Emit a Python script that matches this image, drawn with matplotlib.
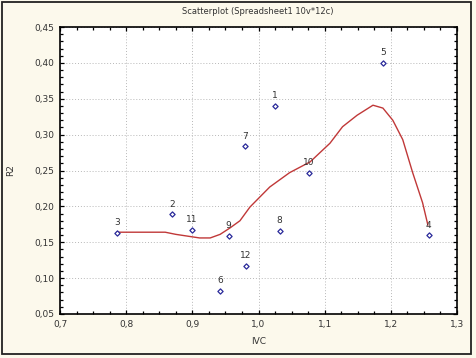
import matplotlib
matplotlib.use("Agg")
import matplotlib.pyplot as plt
from matplotlib.ticker import MultipleLocator, FuncFormatter
from matplotlib.patches import Rectangle

# Data
labels = ["1", "2", "3", "4", "5", "6", "7", "8", "9", "10", "11", "12"]
ivc = [1.025, 0.869, 0.786, 1.257, 1.188, 0.942, 0.979, 1.032, 0.955, 1.076, 0.899, 0.981]
r2 = [0.340, 0.189, 0.163, 0.160, 0.400, 0.082, 0.284, 0.166, 0.159, 0.247, 0.167, 0.117]

# Smoothed fit curve
fit_x = [0.786, 0.859, 0.875, 0.911, 0.927, 0.942, 0.957, 0.972, 0.987, 1.017, 1.047,
         1.078, 1.108, 1.127, 1.149, 1.173, 1.188, 1.203, 1.218, 1.233, 1.248, 1.256]
fit_y = [0.164, 0.164, 0.161, 0.156, 0.156, 0.161, 0.170, 0.180, 0.199, 0.227, 0.247,
         0.262, 0.288, 0.311, 0.327, 0.341, 0.337, 0.320, 0.293, 0.247, 0.205, 0.174]

title = "Scatterplot (Spreadsheet1 10v*12c)"
xlabel = "IVC"
ylabel = "R2"

bg = "#fcf9ec"
fig = plt.figure(figsize=(4.76, 3.58), dpi=100, facecolor=bg)
ax = fig.add_axes([60/476, 1 - 314/358, 397/476, 287/358])
ax.set_facecolor("white")

ax.plot(fit_x, fit_y, color="#c03838", lw=1.0, zorder=2)
ax.scatter(ivc, r2, marker="D", s=7, facecolor="white", edgecolor="#2a2a9a", linewidths=0.9, zorder=3)
for lab, x, y in zip(labels, ivc, r2):
    ax.annotate(lab, (x, y), xytext=(0, 4), textcoords="offset points", ha="center", va="bottom",
                fontsize=6.5, color="#333333", zorder=4)

ax.set_xlim(0.7, 1.3)
ax.set_ylim(0.05, 0.45)
ax.xaxis.set_major_locator(MultipleLocator(0.1))
ax.xaxis.set_minor_locator(MultipleLocator(0.025))
ax.yaxis.set_major_locator(MultipleLocator(0.05))
ax.yaxis.set_minor_locator(MultipleLocator(0.01))
ax.xaxis.set_major_formatter(FuncFormatter(lambda v, p: f"{v:.1f}".replace(".", ",")))
ax.yaxis.set_major_formatter(FuncFormatter(lambda v, p: f"{v:.2f}".replace(".", ",")))
ax.tick_params(which="both", direction="in", top=True, right=True, color="black",
               labelsize=6.5, labelcolor="#333333")
ax.tick_params(which="major", length=3, width=0.9, pad=4)
ax.tick_params(which="minor", length=2.5, width=0.9)
ax.grid(True, which="major", color="#b8b8b8", linestyle=(0, (1, 2)), lw=0.7)
for s in ax.spines.values():
    s.set_linewidth(1.2)
    s.set_color("black")

ax.set_xlabel(xlabel, fontsize=6.5, color="#333333", labelpad=6)
ax.set_ylabel(ylabel, fontsize=6.5, color="#333333", labelpad=14)
fig.text(258/476, 1 - 12/358, title, ha="center", va="center", fontsize=6, color="#333333")

fig.patches.append(Rectangle((2/476, 4/358), 469/476, 352/358, transform=fig.transFigure,
                             fill=False, edgecolor="#222222", lw=1.3))

fig.savefig("out.png", dpi=100, facecolor=bg)
